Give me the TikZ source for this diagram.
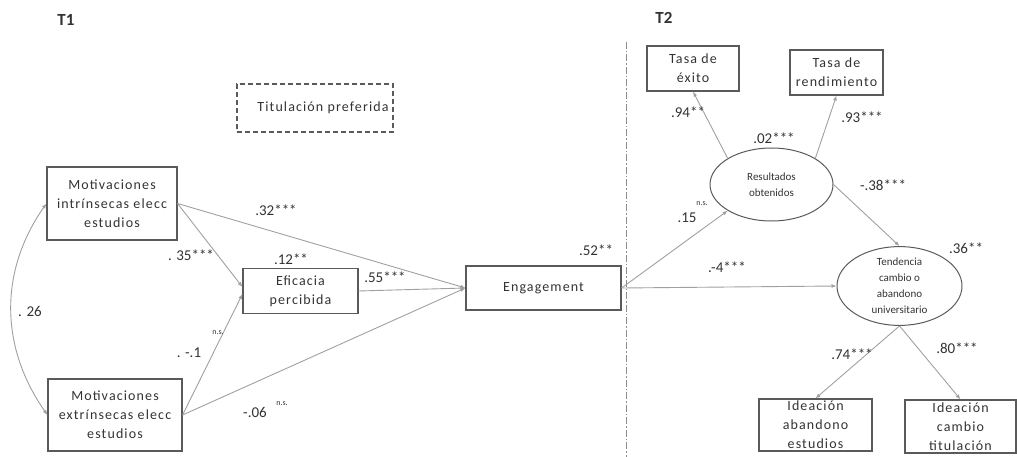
\documentclass[tikz,border=0pt]{standalone}
\usepackage{fontspec}
\setmainfont{Carlito}
\newfontfamily\boxfont[LetterSpace=8]{Carlito}
\usetikzlibrary{positioning,calc,shapes.geometric,arrows.meta}
\definecolor{boxgray}{HTML}{5A5A5A}
\definecolor{arrgray}{HTML}{A0A0A0}
\definecolor{txtgray}{HTML}{333333}
\tikzset{
  var/.style={draw=boxgray, line width=1.1pt, align=center, inner sep=0pt, text=txtgray,
    font=\boxfont\fontsize{14}{19}\selectfont},
  lat/.style={ellipse, draw=boxgray, line width=1pt, align=center, inner sep=0pt, text=txtgray,
    font=\fontsize{11}{16}\selectfont},
  reg/.style={draw=arrgray, line width=0.9pt, -{Latex[length=5pt,width=4pt]}},
  corr/.style={draw=arrgray, line width=0.9pt, {Latex[length=5pt,width=4pt]}-{Latex[length=5pt,width=4pt]}},
  coef/.style={text=txtgray, font=\fontsize{15}{18}\selectfont, inner sep=0pt},
  ns/.style={text=txtgray, font=\fontsize{8}{10}\selectfont, inner sep=0pt},
  tlabel/.style={text=txtgray, font=\bfseries\fontsize{17}{20}\selectfont}
}
\begin{document}
\begin{tikzpicture}[x=1pt,y=-1pt]
\useasboundingbox (0,0) rectangle (1017,457);
% time points
\node[tlabel] (t1) at (66,20) {T1};
\node[tlabel] (t2) at (664,18) {T2};
\coordinate (divtop) at (626,42);
\coordinate (divbot) at (626,457);
\draw[boxgray!70, line width=1pt, dash pattern=on 7pt off 2pt on 1.5pt off 2pt] (divtop) -- (divbot);

% T1 variables
\node[var, dash pattern=on 5pt off 3pt, minimum width=156, minimum height=48] (pref) at (315,108) {\hspace*{16pt}Titulación preferida};
\node[var, minimum width=130, minimum height=73] (intr) at (112,203.5) {Motivaciones\\intrínsecas elecc\\estudios};
\node[var, minimum width=134, minimum height=72] (extr) at (115,415) {Motivaciones\\extrínsecas elecc\\estudios};
\node[var, minimum width=115, minimum height=45] (efic) at (300.5,291) {Eficacia\\percibida};
\node[var, minimum width=155, minimum height=44] (eng) at (543.5,288) {Engagement};

% T2 variables
\node[var, minimum width=92, minimum height=45] (exito) at (693,68.5) {Tasa de\\éxito};
\node[var, minimum width=93, minimum height=45] (rend) at (836.5,72.5) {Tasa de\\rendimiento};
\node[lat, minimum width=123, minimum height=73] (res) at (771.5,184.5) {Resultados\\obtenidos};
\node[lat, minimum width=125, minimum height=78] (tend) at (899.5,286) {Tendencia\\cambio o\\abandono\\universitario};
\node[var, minimum width=113, minimum height=52] (aband) at (815.5,425) {Ideación\\abandono\\estudios};
\node[var, minimum width=111, minimum height=53] (cambio) at (960.5,426.5) {Ideación\\cambio\\titulación};

% paths
\draw[corr] (intr.west) to[out=235,in=125] (extr.west);
\draw[reg] (intr.east) -- ([yshift=4pt]efic.west);
\draw[reg] (extr.east) -- ([yshift=-3pt]efic.west);
\draw[reg] (intr.east) -- (eng.west);
\draw[reg] (extr.east) -- (eng.west);
\draw[reg] (efic.east) -- (eng.west);
\draw[reg] (eng.east) -- (res.south west);
\draw[reg] (eng.east) -- (tend.west);
\draw[reg] (res.north west) -- (exito.south);
\draw[reg] (res.north east) -- (rend.south);
\draw[reg] (res.east) -- (tend.north);
\draw[reg] (tend.south) -- (aband.north);
\draw[reg] (tend.south) -- (cambio.north);

% coefficients
\node[coef] (l32) at (276,210) {.32***};
\node[coef] (l35) at (191,255) {. 35***};
\node[coef] (l12) at (291,259) {.12**};
\node[coef] (l55) at (385,277) {.55***};
\node[coef] (l26) at (30,311) {. 26};
\node[coef] (l01) at (189,353) {. -.1};
\node[ns] (n01) at (218,333) {n.s.};
\node[coef] (l06) at (255,412) {-.06};
\node[ns] (n06) at (282,404) {n.s.};
\node[coef] (l52) at (596,250) {.52**};
\node[coef] (l15) at (687,218) {.15};
\node[ns] (n15) at (702,204) {n.s.};
\node[coef] (l4) at (727,267) {.-4***};
\node[coef] (l94) at (688,112) {.94**};
\node[coef] (l02) at (774,138) {.02***};
\node[coef] (l93) at (862,117) {.93***};
\node[coef] (l38) at (883,185) {-.38***};
\node[coef] (l36) at (966,248) {.36**};
\node[coef] (l74) at (852,354) {.74***};
\node[coef] (l80) at (957,348) {.80***};
\end{tikzpicture}
\end{document}
